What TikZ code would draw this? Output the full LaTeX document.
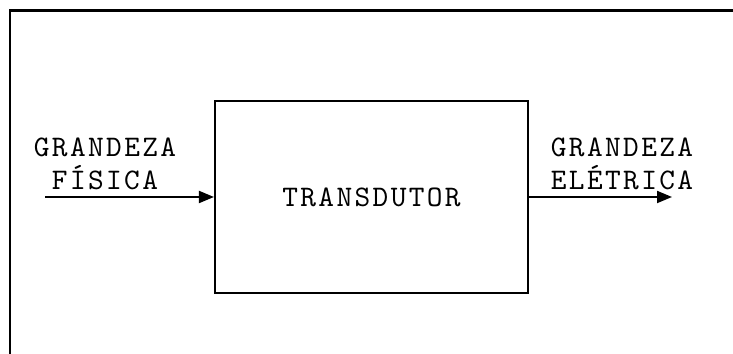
\documentclass[tikz,border=0pt]{standalone}
\usepackage{fontspec}
\usetikzlibrary{arrows.meta, positioning}

\newfontfamily\monoface{lmmono10-regular.otf}[LetterSpace=8]
\newcommand{\lblfont}{\monoface\fontsize{17}{18.8}\selectfont}

\begin{document}
\begin{tikzpicture}[
  >={Triangle[length=3mm, width=2.4mm]},
  blk/.style={
    draw, line width=1.2pt, minimum width=6.26cm, minimum height=3.84cm,
    inner sep=0pt, font=\lblfont
  },
  lbl/.style={align=center, inner sep=0pt, font=\lblfont},
  arr/.style={->, line width=1.1pt},
]

% Page and frame
\useasboundingbox (0,0) rectangle (14.66,7.08);
\fill[white] (0,0) rectangle (14.66,7.08);
\draw[line width=1.7pt] (0.2,0) -- (0.2,6.86) -- (14.66,6.86);

% Transducer block
\node[blk] (tr) at (7.43,3.14) {TRANSDUTOR};

% Input and output
\coordinate (src) at (0.9,3.14);
\coordinate (dst) at (13.44,3.14);
\draw[arr] (src) -- (tr.west);
\draw[arr] (tr.east) -- (dst);

% Labels
\node[lbl, anchor=base] (phys) at (2.1,3.28) {GRANDEZA\\FÍSICA};
\node[lbl, anchor=base] (elec) at (12.44,3.28) {GRANDEZA\\ELÉTRICA};

\end{tikzpicture}
\end{document}
